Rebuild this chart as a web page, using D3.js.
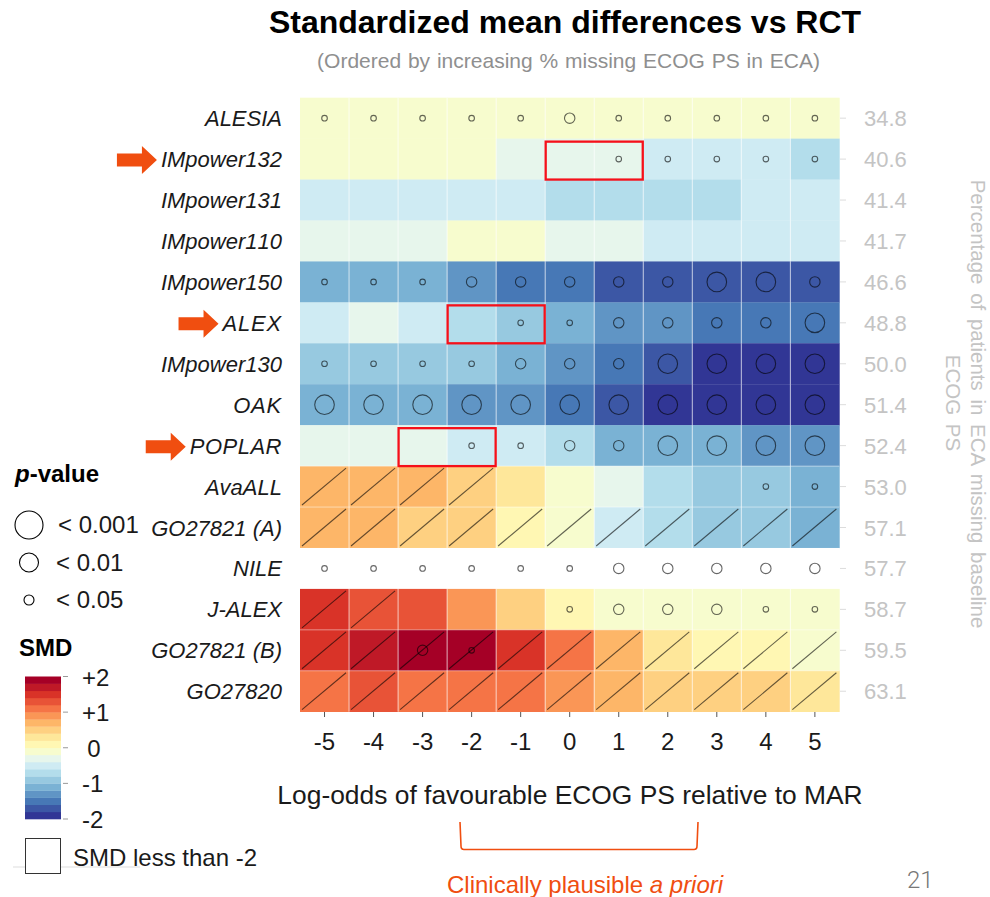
<!DOCTYPE html>
<html>
<head>
<meta charset="utf-8">
<script src="https://cdn.jsdelivr.net/npm/d3@7"></script>
<style>
  html, body { margin: 0; padding: 0; background: #fff; }
  svg { display: block; }
  text { font-family: "Liberation Sans", Arial, sans-serif; }
</style>
</head>
<body>
<script>
// columns and trials
const logOdds = [-5, -4, -3, -2, -1, 0, 1, 2, 3, 4, 5];
const trials = ["ALESIA", "IMpower132", "IMpower131", "IMpower110", "IMpower150", "ALEX", "IMpower130", "OAK", "POPLAR", "AvaALL", "GO27821 (A)", "NILE", "J-ALEX", "GO27821 (B)", "GO27820"];
const pctMissing = ["34.8", "40.6", "41.4", "41.7", "46.6", "48.8", "50.0", "51.4", "52.4", "53.0", "57.1", "57.7", "58.7", "59.5", "63.1"];

const smd = [
  [-0.1, -0.1, -0.1, -0.1, -0.1, -0.1, -0.1, -0.1, -0.1, -0.1, -0.1],
  [-0.1, -0.1, -0.1, -0.1, -0.3, -0.3, -0.3, -0.5, -0.5, -0.5, -0.7],
  [-0.5, -0.5, -0.5, -0.5, -0.5, -0.7, -0.7, -0.7, -0.7, -0.5, -0.5],
  [-0.3, -0.3, -0.3, -0.1, -0.1, -0.3, -0.3, -0.5, -0.5, -0.5, -0.5],
  [-1.1, -1.1, -1.1, -1.3, -1.5, -1.5, -1.7, -1.7, -1.7, -1.7, -1.7],
  [-0.5, -0.3, -0.5, -0.7, -0.9, -1.1, -1.3, -1.3, -1.5, -1.5, -1.5],
  [-0.9, -0.9, -0.9, -0.9, -1.1, -1.3, -1.5, -1.7, -1.9, -1.9, -1.9],
  [-1.1, -1.1, -1.1, -1.3, -1.3, -1.5, -1.7, -1.9, -1.9, -1.9, -1.9],
  [-0.3, -0.3, -0.3, -0.5, -0.5, -0.7, -1.1, -1.1, -1.1, -1.3, -1.3],
  [0.7, 0.7, 0.7, 0.5, 0.3, -0.1, -0.3, -0.7, -0.9, -0.9, -1.1],
  [0.7, 0.7, 0.5, 0.5, 0.1, -0.1, -0.5, -0.7, -0.9, -0.9, -1.1],
  [-2.2, -2.2, -2.2, -2.2, -2.2, -2.2, -2.2, -2.2, -2.2, -2.2, -2.2],
  [1.5, 1.3, 1.3, 0.9, 0.5, 0.1, -0.1, -0.1, -0.1, -0.1, -0.1],
  [1.5, 1.7, 1.9, 1.9, 1.5, 1.1, 0.7, 0.3, 0.1, 0.1, -0.1],
  [1.1, 1.3, 1.1, 1.1, 1.1, 0.9, 0.7, 0.5, 0.5, 0.5, 0.3]
];

// p-value class per cell: 0 none, 1 < 0.05, 2 < 0.01, 3 < 0.001
const pClass = [
  [1, 1, 1, 1, 1, 2, 1, 1, 1, 1, 1],
  [0, 0, 0, 0, 0, 0, 1, 1, 1, 1, 1],
  [0, 0, 0, 0, 0, 0, 0, 0, 0, 0, 0],
  [0, 0, 0, 0, 0, 0, 0, 0, 0, 0, 0],
  [1, 1, 1, 2, 2, 2, 2, 2, 3, 3, 2],
  [0, 0, 0, 0, 1, 1, 2, 2, 2, 2, 3],
  [1, 1, 1, 1, 2, 2, 2, 3, 3, 3, 3],
  [3, 3, 3, 3, 3, 3, 3, 3, 3, 3, 3],
  [0, 0, 0, 1, 1, 2, 2, 3, 3, 3, 3],
  [0, 0, 0, 0, 0, 0, 0, 0, 0, 1, 1],
  [0, 0, 0, 0, 0, 0, 0, 0, 0, 0, 0],
  [1, 1, 1, 1, 1, 1, 2, 2, 2, 2, 2],
  [0, 0, 0, 0, 0, 1, 2, 2, 2, 1, 1],
  [0, 0, 2, 1, 0, 0, 0, 0, 0, 0, 0],
  [0, 0, 0, 0, 0, 0, 0, 0, 0, 0, 0]
];

// struck-through cells (diagonal)
const struck = [
  [0, 0, 0, 0, 0, 0, 0, 0, 0, 0, 0],
  [0, 0, 0, 0, 0, 0, 0, 0, 0, 0, 0],
  [0, 0, 0, 0, 0, 0, 0, 0, 0, 0, 0],
  [0, 0, 0, 0, 0, 0, 0, 0, 0, 0, 0],
  [0, 0, 0, 0, 0, 0, 0, 0, 0, 0, 0],
  [0, 0, 0, 0, 0, 0, 0, 0, 0, 0, 0],
  [0, 0, 0, 0, 0, 0, 0, 0, 0, 0, 0],
  [0, 0, 0, 0, 0, 0, 0, 0, 0, 0, 0],
  [0, 0, 0, 0, 0, 0, 0, 0, 0, 0, 0],
  [1, 1, 1, 1, 0, 0, 0, 0, 0, 0, 0],
  [1, 1, 1, 1, 1, 1, 1, 1, 1, 1, 1],
  [0, 0, 0, 0, 0, 0, 0, 0, 0, 0, 0],
  [1, 1, 0, 0, 0, 0, 0, 0, 0, 0, 0],
  [1, 1, 1, 1, 1, 1, 1, 1, 1, 1, 1],
  [1, 1, 1, 1, 1, 1, 1, 1, 1, 1, 1]
];

// red boxes and the arrows next to those trials
const highlightTrials = ["IMpower132", "ALEX", "POPLAR"];
const highlightFrom = [0, -2, -3];
const highlightTo = [1, -1, -2];

const paletteStops = ["#313695", "#4575b4", "#74add1", "#abd9e9", "#e0f3f8", "#ffffbf", "#fee090", "#fdae61", "#f46d43", "#d73027", "#a50026"];
const smdTicks = [2, 1, 0, -1, -2];
const smdTickLabels = ["+2", "+1", "0", "-1", "-2"];
const pLegendClasses = [3, 2, 1];
const pLegendLabels = ["< 0.001", "< 0.01", "< 0.05"];

const orange = "#f04e10";
const grey = "#c4c4c4";

const svg = d3.select("body").append("svg").attr("width", 990).attr("height", 897);

const x = d3.scaleBand().domain(logOdds).range([300, 839.4]);
const y = d3.scaleBand().domain(trials).range([97.7, 711.7]);
const r = d3.scaleOrdinal().domain([1, 2, 3]).range([2.8, 5.2, 9.8]);

const bandColors = d3.quantize(d3.piecewise(d3.interpolateRgb, paletteStops), 20);
const color = d3.scaleQuantize().domain([-2, 2]).range(bandColors);

const cells = trials.flatMap((t, i) => logOdds.map((l, j) => ({
  trial: t, col: l, smd: smd[i][j], p: pClass[i][j], struck: struck[i][j]
})));

// heatmap
svg.append("g").selectAll("rect").data(cells).join("rect")
  .attr("x", d => x(d.col))
  .attr("y", d => y(d.trial))
  .attr("width", x.bandwidth() + 0.3)
  .attr("height", y.bandwidth() + 0.3)
  .attr("fill", d => d.smd < -2 ? "#fff" : color(d.smd));

// white separators, horizontal ones only show in the lower rows
svg.append("g").selectAll("line").data(logOdds.slice(1)).join("line")
  .attr("x1", d => x(d)).attr("x2", d => x(d))
  .attr("y1", y.range()[0]).attr("y2", y.range()[1])
  .attr("stroke", "#fff").attr("stroke-opacity", 0.65);
svg.append("g").selectAll("line").data(["AvaALL", "GO27821 (A)", "GO27821 (B)", "GO27820"]).join("line")
  .attr("x1", x.range()[0]).attr("x2", x.range()[1])
  .attr("y1", d => y(d)).attr("y2", d => y(d))
  .attr("stroke", "#fff").attr("stroke-opacity", 0.45);

// diagonals
svg.append("g").selectAll("line").data(cells.filter(d => d.struck)).join("line")
  .attr("x1", d => x(d.col) + 2)
  .attr("x2", d => x(d.col) + x.bandwidth() - 3)
  .attr("y1", d => y(d.trial) + y.bandwidth() - 2)
  .attr("y2", d => y(d.trial) + 2)
  .attr("stroke", "#000").attr("stroke-opacity", 0.6).attr("stroke-width", 1.1);

// p-value circles
svg.append("g").selectAll("circle").data(cells.filter(d => d.p > 0)).join("circle")
  .attr("cx", d => x(d.col) + x.bandwidth() / 2)
  .attr("cy", d => y(d.trial) + y.bandwidth() / 2)
  .attr("r", d => r(d.p))
  .attr("fill", "none")
  .attr("stroke", "#000").attr("stroke-opacity", 0.6).attr("stroke-width", 1.1);

// red boxes
svg.append("g").selectAll("rect").data(highlightTrials).join("rect")
  .attr("x", (d, i) => x(highlightFrom[i]) + 0.5)
  .attr("y", d => y(d) + 3)
  .attr("width", (d, i) => x(highlightTo[i]) + x.bandwidth() - x(highlightFrom[i]) - 1)
  .attr("height", y.bandwidth() - 3)
  .attr("fill", "none").attr("stroke", "#f5101a").attr("stroke-width", 2.3);

// axes
const leftAxis = svg.append("g").attr("transform", "translate(282,1)")
  .call(d3.axisLeft(y).tickSize(0).tickPadding(0));
leftAxis.select(".domain").remove();
leftAxis.selectAll("text")
  .attr("font-size", 22).attr("font-style", "italic").attr("fill", "#1a1a1a")
  .style("font-kerning", "none")
  // capitals run a bit wider in the original font
  .style("letter-spacing", d => d === "ALEX" || d === "OAK" ? "0.8px" : d === "POPLAR" ? "0.5px" : null)
  .style("font-family", '"Liberation Sans", Arial, sans-serif');

const rightAxis = svg.append("g").attr("transform", "translate(840,0)")
  .call(d3.axisRight(y).tickSize(6).tickPadding(18).tickFormat((d, i) => pctMissing[i]));
rightAxis.select(".domain").remove();
rightAxis.selectAll("line").attr("stroke", "#dcdcdc");
rightAxis.selectAll("text").attr("font-size", 22).attr("fill", grey).attr("y", 1)
  .style("font-family", '"Liberation Sans", Arial, sans-serif');

const bottomAxis = svg.append("g").attr("transform", "translate(0,712)")
  .call(d3.axisBottom(x).tickSize(5).tickPadding(16));
bottomAxis.select(".domain").remove();
bottomAxis.selectAll("line").attr("stroke", "#555");
bottomAxis.selectAll("text").attr("font-size", 24).attr("fill", "#1a1a1a")
  .style("font-family", '"Liberation Sans", Arial, sans-serif');

// arrows, tip sits just left of the trial label
const arrowShape = "M-40,-6.5 L-15,-6.5 L-15,-14 L0,0 L-15,14 L-15,6.5 L-40,6.5 Z";
highlightTrials.forEach(name => {
  const label = leftAxis.selectAll(".tick").filter(d => d === name).select("text").node();
  const tipX = 282 - label.getComputedTextLength() - 4;
  svg.append("path").attr("d", arrowShape).attr("fill", orange)
    .attr("transform", `translate(${tipX},${y(name) + y.bandwidth() / 2 + 1})`);
});

// titles
svg.append("text").attr("x", 565).attr("y", 33).attr("text-anchor", "middle")
  .attr("font-size", 32).attr("font-weight", "bold").attr("fill", "#000")
  .text("Standardized mean differences vs RCT");
svg.append("text").attr("x", 568.5).attr("y", 68).attr("text-anchor", "middle")
  .attr("font-size", 21).attr("word-spacing", 1).attr("fill", "#8f8f8f")
  .text("(Ordered by increasing % missing ECOG PS in ECA)");
svg.append("text").attr("x", 570).attr("y", 804).attr("text-anchor", "middle")
  .attr("font-size", 26.4).attr("fill", "#1a1a1a")
  .text("Log-odds of favourable ECOG PS relative to MAR");

// right side title
const sideTitle = svg.append("g").attr("text-anchor", "middle").attr("font-size", 20.5).attr("fill", grey);
sideTitle.append("text").attr("transform", "translate(971,404) rotate(90)").attr("word-spacing", 3)
  .text("Percentage of patients in ECA missing baseline");
sideTitle.append("text").attr("transform", "translate(946,403) rotate(90)").attr("word-spacing", 3)
  .text("ECOG PS");

// bracket
svg.append("path")
  .attr("d", "M460,822 L461,846 Q461,849.5 464,849.5 L694,849.5 Q697,849.5 697,846 L698,822")
  .attr("fill", "none").attr("stroke", orange).attr("stroke-width", 1.6);
const plausible = svg.append("text").attr("x", 447).attr("y", 893).attr("font-size", 24).attr("fill", orange);
plausible.append("tspan").text("Clinically plausible ");
plausible.append("tspan").attr("font-style", "italic").text("a priori");

svg.append("text").attr("x", 907).attr("y", 888).attr("font-size", 24).attr("font-weight", 300)
  .attr("fill", "#777").style("font-family", "Roboto, sans-serif").text("21");

// p-value legend
const pLegend = svg.append("g");
const pTitle = pLegend.append("text").attr("x", 15).attr("y", 482).attr("font-size", 24).attr("font-weight", "bold").attr("fill", "#000");
pTitle.append("tspan").attr("font-style", "italic").text("p");
pTitle.append("tspan").text("-value");
const legendR = d3.scaleOrdinal().domain(pLegendClasses).range([14, 9.5, 5]);
const legendY = d3.scalePoint().domain(pLegendClasses).range([525, 600]);
pLegend.selectAll("circle").data(pLegendClasses).join("circle")
  .attr("cx", 29).attr("cy", d => legendY(d)).attr("r", d => legendR(d))
  .attr("fill", "none").attr("stroke", "#000").attr("stroke-width", 1.1);
pLegend.selectAll(".lab").data(pLegendClasses).join("text").attr("class", "lab")
  .attr("x", (d, i) => i === 0 ? 58 : 56).attr("y", d => legendY(d) + 8)
  .attr("font-size", 24).attr("fill", "#1a1a1a")
  .text((d, i) => pLegendLabels[i]);

// SMD colour bar
const barY = d3.scaleLinear().domain([-2, 2]).range([819, 676.5]);
const barBands = [-2, ...color.thresholds()];
const smdLegend = svg.append("g");
smdLegend.append("text").attr("x", 19).attr("y", 656).attr("font-size", 24).attr("font-weight", "bold").attr("fill", "#000").text("SMD");
smdLegend.selectAll("rect").data(barBands).join("rect")
  .attr("x", 25).attr("width", 36)
  .attr("y", (d, i) => barY(d + 0.2))
  .attr("height", barY(0) - barY(0.2) + 0.3)
  .attr("fill", (d, i) => bandColors[i]);
smdLegend.selectAll("line").data(smdTicks).join("line")
  .attr("x1", 63).attr("x2", 68).attr("y1", d => barY(d)).attr("y2", d => barY(d))
  .attr("stroke", "#999");
smdLegend.selectAll(".tl").data(smdTicks).join("text").attr("class", "tl")
  .attr("x", (d, i) => i === 2 ? 94 : 82)
  .attr("y", d => barY(d) + 9)
  .attr("text-anchor", (d, i) => i === 2 ? "middle" : "start")
  .attr("font-size", 24).attr("fill", "#1a1a1a")
  .text((d, i) => smdTickLabels[i]);

// white box entry
svg.append("line").attr("x1", 13).attr("x2", 140).attr("y1", 867).attr("y2", 867).attr("stroke", "#ddd");
svg.append("rect").attr("x", 25.5).attr("y", 838.5).attr("width", 35).attr("height", 35)
  .attr("fill", "#fff").attr("stroke", "#333");
svg.append("text").attr("x", 73).attr("y", 866).attr("font-size", 24).attr("fill", "#1a1a1a").text("SMD less than -2");
</script>
</body>
</html>
